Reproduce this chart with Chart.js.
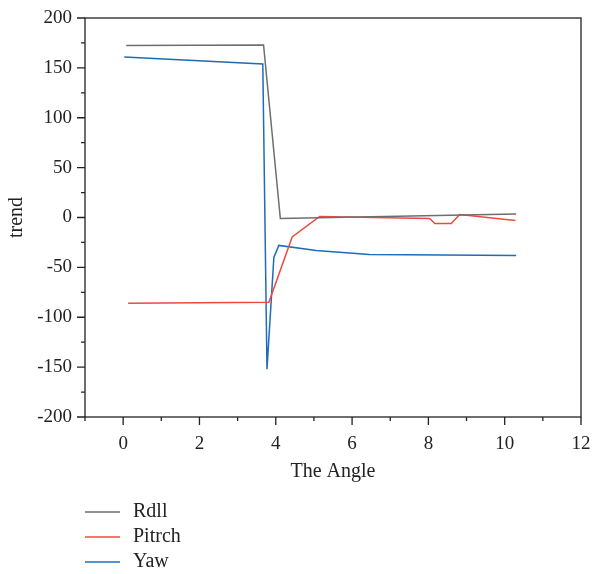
<!DOCTYPE html>
<html>
<head>
<meta charset="utf-8">
<script src="https://cdn.jsdelivr.net/npm/chart.js@4"></script>
<style>
  html, body { margin: 0; padding: 0; background: #fff; }
  #wrap { width: 593px; height: 574px; }
</style>
</head>
<body>
<div id="wrap"><canvas id="lineChart" width="593" height="574"></canvas></div>
<script>
// series, x = angle
const seriesNames = ['Rdll', 'Pitrch', 'Yaw'];
const rdllX = [0.08, 3.68, 4.12, 10.3];
const rdllY = [172.5, 173, -1, 3.5];
const pitrchX = [0.13, 3.82, 4.43, 5.15, 8.03, 8.17, 8.6, 8.82, 10.28];
const pitrchY = [-86, -85, -19.5, 1, -1, -6, -6, 3, -3];
const yawX = [0.03, 3.66, 3.77, 3.95, 4.08, 5.06, 6.45, 10.3];
const yawY = [161, 154, -152, -40, -28, -33, -37, -38];

// axis ticks
const xTicks = [0, 2, 4, 6, 8, 10, 12];
const yTicks = [-200, -150, -100, -50, 0, 50, 100, 150, 200];

const colors = ['#6e6e6e', '#ec4a3f', '#1f6cb8'];
const serif = '"Liberation Serif", "DejaVu Serif", serif';

function toPoints(xs, ys) {
    return xs.map((x, i) => ({ x: x, y: ys[i] }));
}

// box frame + outward tick marks (major and minor)
const frameTicks = {
    id: 'frameTicks',
    afterDraw(chart) {
        const ctx = chart.ctx;
        const a = chart.chartArea;
        const xs = chart.scales.x, ys = chart.scales.y;
        ctx.save();
        ctx.strokeStyle = '#222';
        ctx.lineWidth = 1.3;
        ctx.strokeRect(a.left, a.top, a.right - a.left, a.bottom - a.top);
        ctx.beginPath();
        for (let v = -1; v <= 12; v++) {
            const px = xs.getPixelForValue(v);
            const len = (v % 2 === 0) ? 8 : 4;
            ctx.moveTo(px, a.bottom);
            ctx.lineTo(px, a.bottom + len);
        }
        for (let v = -200; v <= 200; v += 25) {
            const py = ys.getPixelForValue(v);
            const len = (v % 50 === 0) ? 8 : 4;
            ctx.moveTo(a.left, py);
            ctx.lineTo(a.left - len, py);
        }
        ctx.stroke();
        ctx.restore();
    }
};

// stacked legend under the plot
const sideLegend = {
    id: 'sideLegend',
    afterDraw(chart) {
        const ctx = chart.ctx;
        ctx.save();
        ctx.font = '20px ' + serif;
        ctx.textBaseline = 'middle';
        ctx.fillStyle = '#222';
        chart.data.datasets.forEach((ds, i) => {
            const y = 512 + i * 25;
            ctx.strokeStyle = ds.borderColor;
            ctx.lineWidth = 1.5;
            ctx.beginPath();
            ctx.moveTo(85, y);
            ctx.lineTo(120, y);
            ctx.stroke();
            ctx.fillText(ds.label, 133, y);
        });
        ctx.restore();
    }
};

const ctx = document.getElementById('lineChart');

const graph = {
    type: 'scatter',
    data: {
        datasets: [
            { label: seriesNames[0], data: toPoints(rdllX, rdllY) },
            { label: seriesNames[1], data: toPoints(pitrchX, pitrchY) },
            { label: seriesNames[2], data: toPoints(yawX, yawY) }
        ].map((ds, i) => Object.assign(ds, {
            showLine: true,
            borderColor: colors[i],
            backgroundColor: colors[i],
            borderWidth: 1.5,
            pointRadius: 0,
            tension: 0
        }))
    },
    options: {
        responsive: false,
        animation: false,
        layout: { padding: { left: 0, right: 12, top: 18, bottom: 90 } },
        plugins: {
            legend: { display: false },
            tooltip: { enabled: false }
        },
        scales: {
            x: {
                type: 'linear',
                min: -1,
                max: 12,
                afterBuildTicks: (s) => { s.ticks = xTicks.map(v => ({ value: v })); },
                afterFit: (s) => { s.height = 67; s.paddingLeft = 0; s.paddingRight = 0; },
                grid: { display: false, drawTicks: false },
                border: { display: false },
                ticks: { color: '#222', padding: 16, maxRotation: 0, font: { family: serif, size: 19 } },
                title: { display: true, text: 'The Angle', color: '#222', padding: { top: 0, bottom: 0 }, font: { family: serif, size: 20 } }
            },
            y: {
                min: -200,
                max: 200,
                afterBuildTicks: (s) => { s.ticks = yTicks.map(v => ({ value: v })); },
                afterFit: (s) => { s.width = 85; s.paddingTop = 0; s.paddingBottom = 0; },
                grid: { display: false, drawTicks: false },
                border: { display: false },
                ticks: { color: '#222', padding: 13, font: { family: serif, size: 19 } },
                title: { display: true, text: 'trend', color: '#222', padding: { top: 5, bottom: 4 }, font: { family: serif, size: 20 } }
            }
        }
    },
    plugins: [frameTicks, sideLegend]
};

window.chart = new Chart(ctx, graph);
</script>
</body>
</html>
